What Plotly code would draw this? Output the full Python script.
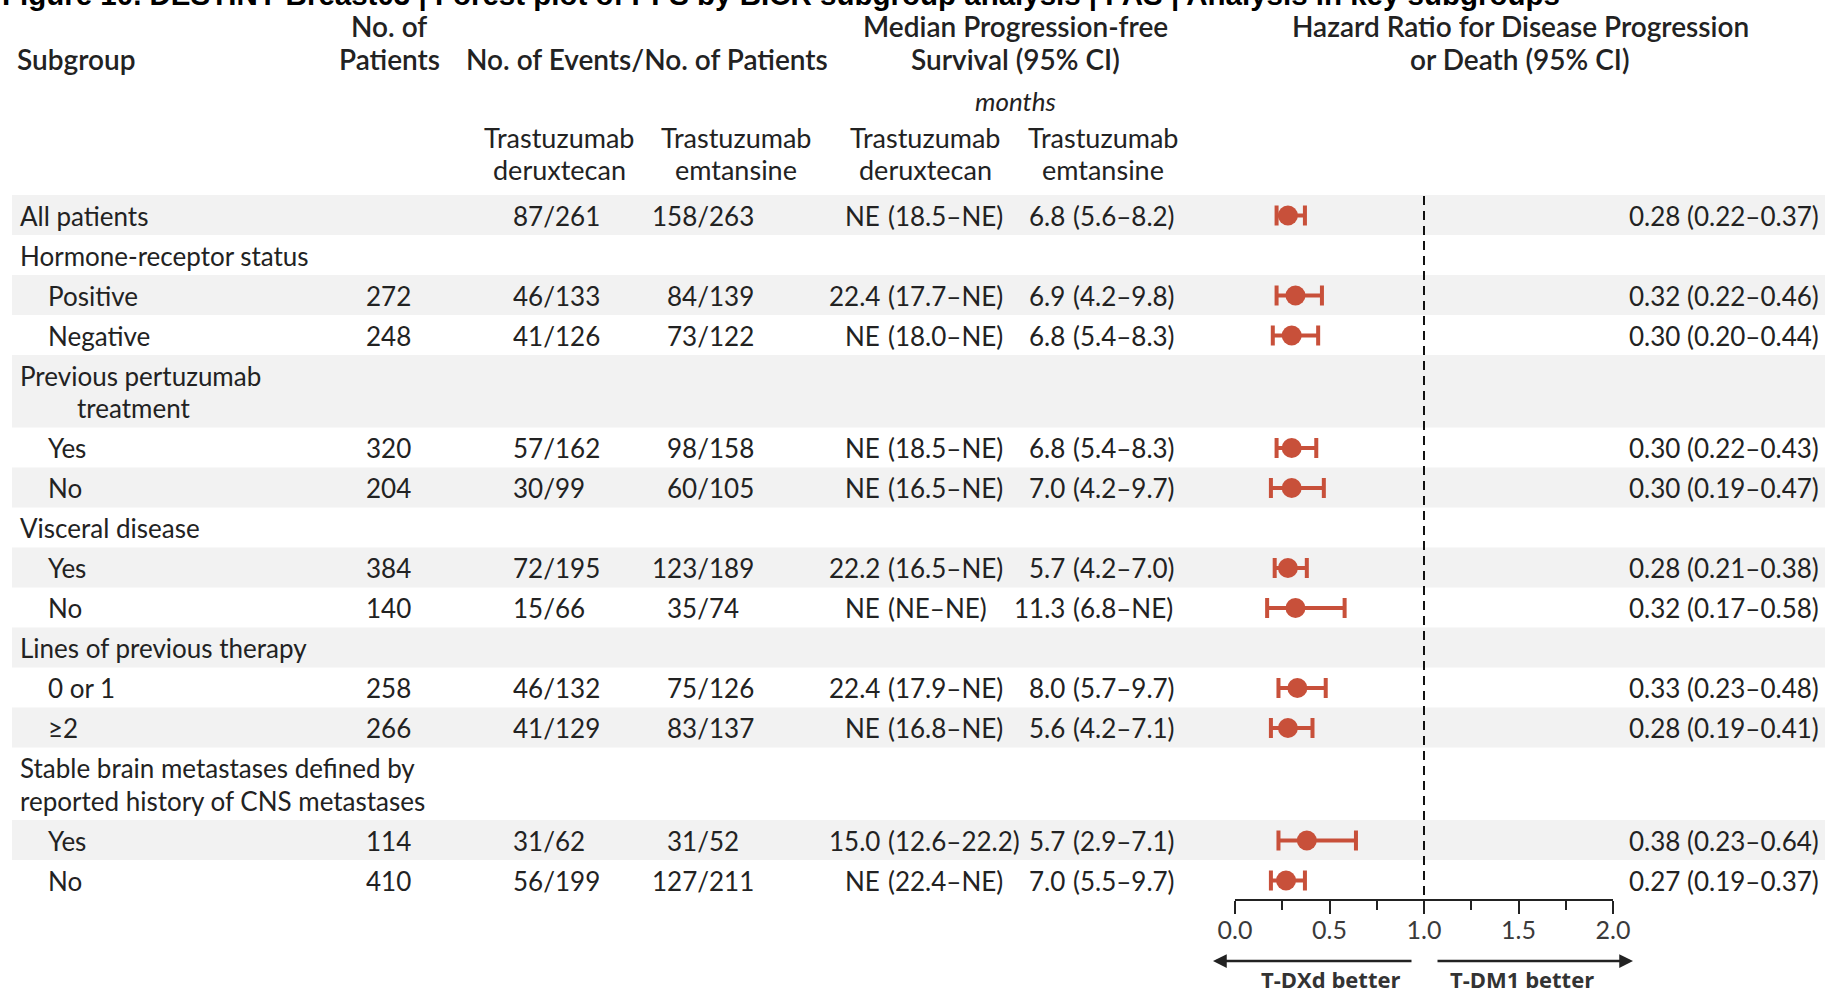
import plotly.graph_objects as go

# ---------------- data ----------------
subgroups = [
    "All patients",
    "Hormone-receptor status",
    "Positive",
    "Negative",
    "Previous pertuzumab\ntreatment",
    "Yes",
    "No",
    "Visceral disease",
    "Yes",
    "No",
    "Lines of previous therapy",
    "0 or 1",
    "≥2",
    "Stable brain metastases defined by\nreported history of CNS metastases",
    "Yes",
    "No",
]
indent_level = [0, 0, 1, 1, 0, 1, 1, 0, 1, 1, 0, 1, 1, 0, 1, 1]
n_patients = [None, None, 272, 248, None, 320, 204, None, 384, 140, None, 258, 266, None, 114, 410]
events_tdxd = ["87/261", None, "46/133", "41/126", None, "57/162", "30/99", None,
               "72/195", "15/66", None, "46/132", "41/129", None, "31/62", "56/199"]
events_tdm1 = ["158/263", None, "84/139", "73/122", None, "98/158", "60/105", None,
               "123/189", "35/74", None, "75/126", "83/137", None, "31/52", "127/211"]
pfs_tdxd = ["NE (18.5–NE)", None, "22.4 (17.7–NE)", "NE (18.0–NE)", None, "NE (18.5–NE)",
            "NE (16.5–NE)", None, "22.2 (16.5–NE)", "NE (NE–NE)", None, "22.4 (17.9–NE)",
            "NE (16.8–NE)", None, "15.0 (12.6–22.2)", "NE (22.4–NE)"]
pfs_tdm1 = ["6.8 (5.6–8.2)", None, "6.9 (4.2–9.8)", "6.8 (5.4–8.3)", None, "6.8 (5.4–8.3)",
            "7.0 (4.2–9.7)", None, "5.7 (4.2–7.0)", "11.3 (6.8–NE)", None, "8.0 (5.7–9.7)",
            "5.6 (4.2–7.1)", None, "5.7 (2.9–7.1)", "7.0 (5.5–9.7)"]
hr = [0.28, None, 0.32, 0.30, None, 0.30, 0.30, None, 0.28, 0.32, None, 0.33, 0.28, None, 0.38, 0.27]
hr_low = [0.22, None, 0.22, 0.20, None, 0.22, 0.19, None, 0.21, 0.17, None, 0.23, 0.19, None, 0.23, 0.19]
hr_high = [0.37, None, 0.46, 0.44, None, 0.43, 0.47, None, 0.38, 0.58, None, 0.48, 0.41, None, 0.64, 0.37]

hr_ticks = [0.0, 0.5, 1.0, 1.5, 2.0]
hr_minor_ticks = [0.25, 0.75, 1.25, 1.75]

title = ("Figure 10. DESTINY-Breast03 | Forest plot of PFS by BICR subgroup analysis | "
         "FAS | Analysis in key subgroups")

# ---------------- styling / layout ----------------
W, H = 1825, 994
BODY = "Lato, 'Open Sans', sans-serif"
TEXT = "#222222"
RED = "#c8503a"
BAND = "#f2f2f2"
FS = 26

ROW_TOP = 195.0
ROW_H = 40.0
LINE_GAP = 32.5
cont_indent = {4: 57}          # extra indent for wrapped second line

LABEL_X = [20, 48]
NPAT_X = 388
EV_SLASH = [555, 709]
PFS_PAREN = [888, 1073]
PFS_GAP = 8
HR_TEXT_R = 1819
AX_Y = 900
HR_X0, HR_X2 = 1235, 1613

# row geometry
tops, heights = [], []
y = ROW_TOP
for lab in subgroups:
    h = ROW_H + lab.count("\n") * LINE_GAP
    tops.append(y)
    heights.append(h)
    y += h
centers = [t + 20.5 for t in tops]

annotations = []
shapes = []


def txt(x, y, s, anchor="left", size=FS, color=TEXT, weight="normal", style="normal",
        family=BODY, yref="y"):
    yy = y if yref == "y" else 1 - y / H
    annotations.append(dict(
        x=x / W, xref="paper", y=yy, yref=yref, text=s, showarrow=False,
        xanchor=anchor, yanchor="middle", align=anchor, borderpad=0, borderwidth=0,
        font=dict(family=family, size=size, color=color, weight=weight, style=style)))


# title (runs off the top edge)
annotations.append(dict(x=2 / W, xref="paper", y=1 + 5 / H, yref="paper", text=title,
                        showarrow=False, xanchor="left", yanchor="middle",
                        borderpad=0, borderwidth=0,
                        font=dict(family="Liberation Sans, Arial, sans-serif", size=29.5,
                                  color="#000000", weight="bold")))

# column headers
HW = 600
HS = 28
txt(17, 59, "Subgroup", weight=HW, size=HS)
txt(389, 26, "No. of", "center", weight=HW, size=HS)
txt(389, 59, "Patients", "center", weight=HW, size=HS)
txt(647, 59, "No. of Events/No. of Patients", "center", weight=HW, size=HS)
txt(1015, 26, "Median Progression-free", "center", weight=HW, size=HS)
txt(1015, 59, "Survival (95% CI)", "center", weight=HW, size=HS)
txt(1520, 26, "Hazard Ratio for Disease Progression", "center", weight=HW, size=HS)
txt(1520, 59, "or Death (95% CI)", "center", weight=HW, size=HS)
txt(1015, 101, "months", "center", style="italic", size=26)
for cx, drug in zip([559, 736, 925, 1103],
                    ["deruxtecan", "emtansine", "deruxtecan", "emtansine"]):
    txt(cx, 137, "Trastuzumab", "center", size=27)
    txt(cx, 169, drug, "center", size=27)

# alternating row bands
for i, (t, h) in enumerate(zip(tops, heights)):
    if i % 2 == 0:
        shapes.append(dict(type="rect", xref="paper", yref="y", x0=12 / W, x1=1,
                           y0=t, y1=t + h, fillcolor=BAND, line=dict(width=0),
                           layer="below"))

# table body
for i, lab in enumerate(subgroups):
    c = centers[i]
    for k, line in enumerate(lab.split("\n")):
        x = LABEL_X[indent_level[i]] + (cont_indent.get(i, 0) if k else 0)
        txt(x, c + k * LINE_GAP, line)
    if n_patients[i] is not None:
        txt(NPAT_X, c, str(n_patients[i]), "center")
    for col, vals in enumerate([events_tdxd, events_tdm1]):
        v = vals[i]
        if v:
            num, den = v.split("/")
            txt(EV_SLASH[col], c, num + "/", "right")
            txt(EV_SLASH[col], c, den, "left")
    for col, vals in enumerate([pfs_tdxd, pfs_tdm1]):
        v = vals[i]
        if v:
            est, ci = v.split(" ", 1)
            txt(PFS_PAREN[col] - PFS_GAP, c, est, "right")
            txt(PFS_PAREN[col], c, ci, "left")
    if hr[i] is not None:
        txt(HR_TEXT_R, c, f"{hr[i]:.2f} ({hr_low[i]:.2f}–{hr_high[i]:.2f})", "right")

# hazard-ratio markers with confidence intervals
idx = [i for i, v in enumerate(hr) if v is not None]
fig = go.Figure(go.Scatter(
    x=[hr[i] for i in idx],
    y=[centers[i] for i in idx],
    mode="markers",
    marker=dict(symbol="circle", size=20, color=RED, line=dict(width=0)),
    error_x=dict(type="data", symmetric=False,
                 array=[hr_high[i] - hr[i] for i in idx],
                 arrayminus=[hr[i] - hr_low[i] for i in idx],
                 thickness=4, width=10, color=RED),
    hoverinfo="skip", showlegend=False, cliponaxis=False,
))

# line of no effect
shapes.append(dict(type="line", xref="x", yref="y", x0=1, x1=1, y0=ROW_TOP + 1, y1=AX_Y,
                   line=dict(color="#111111", width=2, dash="9px,6px")))

# direction arrows and labels
ARROW_Y = 961
annotations.append(dict(x=1213 / W, xref="paper", y=1 - ARROW_Y / H, yref="paper",
                        ax=200, ay=0, axref="pixel", ayref="pixel", text="",
                        showarrow=True, arrowhead=2, arrowsize=1.1, arrowwidth=2.5,
                        arrowcolor="#222222"))
annotations.append(dict(x=1633 / W, xref="paper", y=1 - ARROW_Y / H, yref="paper",
                        ax=-197, ay=0, axref="pixel", ayref="pixel", text="",
                        showarrow=True, arrowhead=2, arrowsize=1.1, arrowwidth=2.5,
                        arrowcolor="#222222"))
txt(1330, 979, "T-DXd better", "center", size=22, weight="bold", color="#333333",
    family="'Open Sans', sans-serif", yref="paper")
txt(1522, 979, "T-DM1 better", "center", size=22, weight="bold", color="#333333",
    family="'Open Sans', sans-serif", yref="paper")

fig.update_layout(
    width=W, height=H,
    margin=dict(l=0, r=0, t=0, b=0, autoexpand=False),
    paper_bgcolor="white", plot_bgcolor="rgba(0,0,0,0)",
    showlegend=False,
    xaxis=dict(
        domain=[HR_X0 / W, HR_X2 / W], range=[0, 2],
        anchor="free", position=(H - AX_Y) / H, automargin=False,
        showgrid=False, zeroline=False,
        showline=True, linecolor="#222222", linewidth=2,
        ticks="outside", ticklen=13, tickwidth=2, tickcolor="#222222",
        ticklabelstandoff=-5,
        tickvals=hr_ticks, ticktext=[f"{t:.1f}" for t in hr_ticks],
        tickfont=dict(family=BODY, size=25, color="#3a3a3a"),
        minor=dict(tickvals=hr_minor_ticks, ticks="outside", ticklen=9, tickwidth=2,
                   tickcolor="#222222", showgrid=False),
        fixedrange=True,
    ),
    yaxis=dict(domain=[0, 1], range=[H, 0], visible=False, fixedrange=True,
               automargin=False),
    annotations=annotations,
    shapes=shapes,
)

fig.write_html("out.html", config={"displayModeBar": False})
